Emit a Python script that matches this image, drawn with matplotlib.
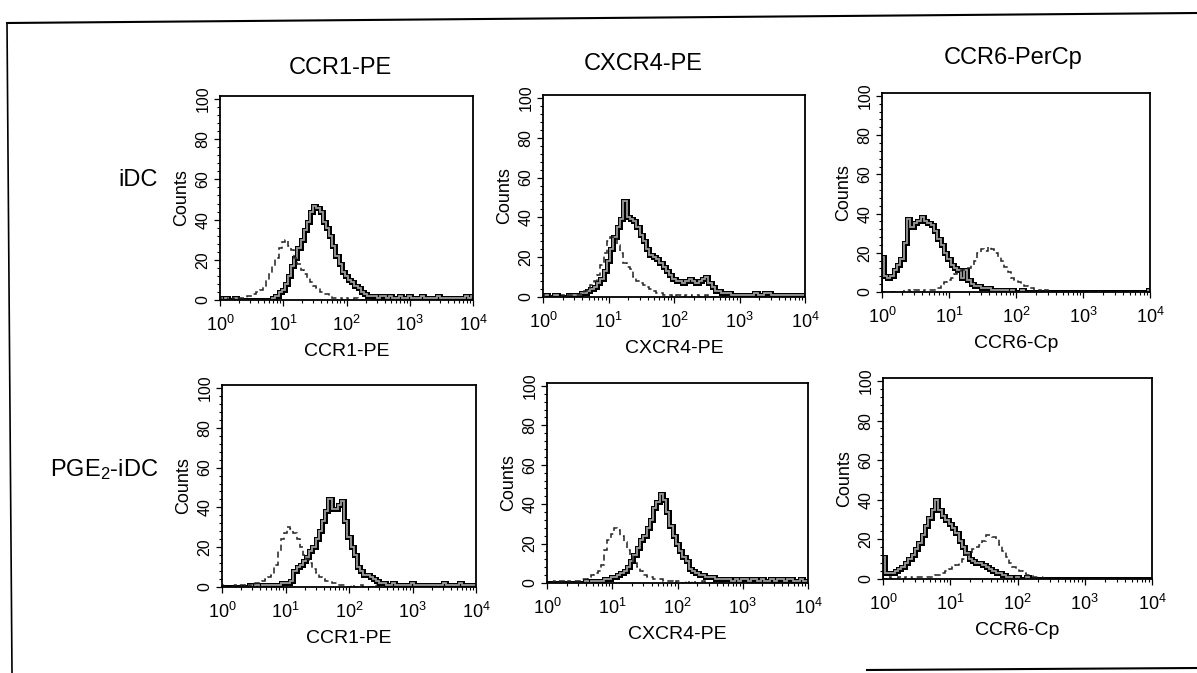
import numpy as np
import matplotlib.pyplot as plt
from matplotlib.lines import Line2D
from matplotlib.ticker import AutoMinorLocator, LogLocator, NullFormatter

plt.rcParams['font.family'] = ['Liberation Sans', 'DejaVu Sans']
plt.rcParams['mathtext.fontset'] = 'custom'
plt.rcParams['mathtext.rm'] = 'Liberation Sans'
plt.rcParams['mathtext.it'] = 'Liberation Sans:italic'
plt.rcParams['mathtext.default'] = 'regular'

# channel grid: 81 log channels, 0.05 decade wide, from 10^0 to 10^4
log_edges = np.linspace(-0.025, 4.025, 82)

markers = ['CCR1-PE', 'CXCR4-PE', 'CCR6-PerCp']
axis_labels = ['CCR1-PE', 'CXCR4-PE', 'CCR6-Cp']
row_labels = ['iDC', r'PGE$_\mathregular{2}$-iDC']
decade_ticks = [1, 10, 100, 1000, 10000]
decade_labels = ['$10^{0}$', '$10^{1}$', '$10^{2}$', '$10^{3}$', '$10^{4}$']
count_ticks = [0, 20, 40, 60, 80, 100]

# one value per channel (81 channels)
ccr1_idc_solid = [1, 0, 1, 0, 0, 1, 0, 0, 0, 0,
                  0, 0, 0, 0, 0, 0, 0, 1, 2, 4,
                  5, 8, 12, 17, 21, 26, 30, 35, 39, 44,
                  47, 46, 44, 39, 36, 32, 27, 22, 18, 14,
                  12, 10, 9, 7, 6, 4, 3, 2, 2, 2,
                  1, 2, 2, 1, 2, 1, 1, 2, 1, 1,
                  2, 1, 1, 1, 2, 1, 1, 1, 1, 2,
                  1, 1, 1, 1, 1, 1, 1, 1, 2, 1,
                  2]
ccr1_idc_dashed = [1, 1, 0, 1, 1, 0, 1, 1, 1, 2,
                   2, 3, 4, 5, 7, 10, 13, 17, 21, 26,
                   29, 30, 27, 25, 21, 18, 15, 13, 11, 9,
                   7, 6, 4, 3, 3, 2, 1, 1, 1, 0,
                   1, 0, 0, 1, 0, 0, 0, 0, 0, 0,
                   0, 0, 0, 0, 0, 0, 0, 0, 0, 0,
                   0, 0, 0, 0, 0, 0, 0, 0, 0, 0,
                   0, 0, 0, 0, 0, 0, 0, 0, 0, 0,
                   0]
cxcr4_idc_solid = [0, 1, 0, 0, 1, 0, 0, 0, 1, 1,
                   1, 1, 2, 2, 3, 4, 5, 7, 9, 13,
                   18, 24, 30, 35, 39, 48, 40, 39, 38, 35,
                   31, 28, 24, 21, 20, 19, 17, 15, 13, 11,
                   9, 8, 8, 7, 8, 9, 8, 7, 8, 9,
                   10, 7, 5, 3, 3, 2, 2, 2, 1, 1,
                   1, 1, 1, 1, 1, 2, 1, 1, 2, 2,
                   1, 1, 1, 1, 1, 1, 1, 1, 1, 1,
                   1]
cxcr4_idc_dashed = [1, 1, 0, 1, 0, 1, 1, 0, 1, 1,
                    1, 1, 2, 3, 4, 6, 8, 11, 16, 22,
                    28, 30, 29, 26, 22, 17, 15, 14, 10, 8,
                    7, 6, 5, 4, 3, 2, 2, 1, 1, 1,
                    0, 1, 1, 0, 1, 1, 0, 1, 0, 0,
                    1, 0, 0, 0, 0, 0, 0, 0, 0, 0,
                    0, 0, 0, 0, 0, 0, 0, 0, 0, 0,
                    0, 0, 0, 0, 0, 0, 0, 0, 0, 0,
                    0]
ccr6_idc_solid = [18, 8, 7, 8, 11, 14, 17, 25, 37, 33,
                  35, 36, 38, 36, 35, 34, 31, 27, 24, 20,
                  17, 14, 12, 11, 7, 11, 6, 4, 3, 3,
                  2, 2, 2, 1, 1, 1, 1, 1, 0, 1,
                  0, 0, 1, 0, 0, 0, 0, 0, 0, 0,
                  0, 0, 0, 0, 0, 0, 0, 0, 0, 0,
                  0, 0, 0, 0, 0, 0, 0, 0, 0, 0,
                  0, 0, 0, 0, 0, 0, 0, 0, 0, 0,
                  1]
ccr6_idc_dashed = [0, 0, 0, 0, 0, 0, 0, 1, 1, 0,
                   1, 1, 0, 1, 1, 1, 1, 2, 4, 5,
                   6, 7, 9, 10, 11, 12, 12, 14, 16, 20,
                   22, 21, 23, 22, 20, 18, 16, 13, 10, 7,
                   6, 5, 4, 3, 2, 2, 1, 1, 0, 1,
                   0, 0, 0, 0, 0, 0, 0, 0, 0, 0,
                   0, 0, 0, 0, 0, 0, 0, 0, 0, 0,
                   0, 0, 0, 0, 0, 0, 0, 0, 0, 0,
                   0]
ccr1_pge_solid = [0, 0, 0, 0, 0, 0, 0, 0, 0, 1,
                  0, 1, 0, 1, 1, 1, 1, 1, 1, 2,
                  2, 2, 3, 8, 10, 11, 13, 15, 18, 20,
                  24, 28, 33, 38, 44, 39, 39, 41, 43, 33,
                  25, 20, 16, 10, 8, 6, 6, 5, 4, 3,
                  2, 2, 1, 1, 2, 1, 1, 1, 1, 1,
                  2, 1, 1, 1, 1, 1, 1, 1, 1, 1,
                  2, 1, 1, 1, 1, 2, 1, 1, 1, 1,
                  1]
ccr1_pge_dashed = [0, 1, 0, 0, 1, 0, 1, 1, 0, 1,
                   1, 2, 2, 3, 4, 5, 6, 11, 18, 24,
                   27, 30, 29, 27, 24, 20, 16, 14, 12, 9,
                   7, 5, 4, 3, 3, 2, 2, 1, 1, 1,
                   0, 1, 0, 0, 1, 0, 0, 0, 1, 0,
                   0, 0, 0, 0, 0, 0, 0, 0, 0, 0,
                   0, 0, 0, 0, 0, 0, 0, 0, 0, 0,
                   0, 0, 0, 0, 0, 0, 0, 0, 0, 0,
                   0]
cxcr4_pge_solid = [0, 0, 0, 0, 0, 0, 0, 0, 0, 0,
                   0, 0, 1, 0, 1, 1, 1, 1, 2, 2,
                   3, 3, 4, 5, 6, 8, 11, 14, 18, 22,
                   24, 28, 32, 38, 41, 45, 42, 36, 29, 24,
                   20, 16, 13, 11, 7, 6, 5, 4, 4, 3,
                   3, 3, 2, 2, 2, 2, 2, 1, 2, 1,
                   2, 2, 1, 2, 2, 1, 2, 1, 1, 2,
                   1, 2, 2, 1, 2, 2, 1, 1, 2, 1,
                   1]
cxcr4_pge_dashed = [0, 0, 1, 0, 1, 1, 0, 1, 1, 1,
                    1, 2, 2, 3, 4, 5, 6, 9, 17, 22,
                    25, 28, 27, 24, 21, 17, 14, 10, 8, 6,
                    4, 3, 3, 2, 2, 2, 1, 1, 1, 0,
                    1, 1, 0, 1, 0, 1, 0, 0, 1, 0,
                    0, 0, 0, 0, 0, 0, 0, 0, 0, 0,
                    0, 0, 0, 0, 0, 0, 0, 0, 0, 0,
                    0, 0, 0, 0, 0, 0, 0, 0, 0, 0,
                    0]
ccr6_pge_solid = [11, 3, 3, 3, 4, 5, 6, 8, 10, 12,
                  15, 18, 22, 27, 31, 35, 40, 35, 32, 30,
                  28, 26, 23, 19, 16, 13, 10, 9, 8, 8,
                  7, 6, 5, 4, 3, 3, 2, 1, 1, 0,
                  1, 0, 0, 1, 0, 0, 0, 0, 0, 0,
                  0, 0, 0, 0, 0, 0, 0, 0, 0, 0,
                  0, 0, 0, 0, 0, 0, 0, 0, 0, 0,
                  0, 0, 0, 0, 0, 0, 0, 0, 0, 0,
                  0]
ccr6_pge_dashed = [0, 0, 1, 0, 0, 1, 0, 1, 1, 0,
                   1, 1, 1, 1, 1, 1, 2, 2, 3, 4,
                   5, 6, 7, 8, 10, 12, 13, 15, 16, 17,
                   19, 22, 22, 21, 20, 17, 14, 11, 8, 6,
                   5, 4, 3, 2, 2, 1, 1, 0, 1, 0,
                   0, 0, 0, 0, 0, 0, 0, 0, 0, 0,
                   0, 0, 0, 0, 0, 0, 0, 0, 0, 0,
                   0, 0, 0, 0, 0, 0, 0, 0, 0, 0,
                   0]

solid = [[ccr1_idc_solid, cxcr4_idc_solid, ccr6_idc_solid],
         [ccr1_pge_solid, cxcr4_pge_solid, ccr6_pge_solid]]
dashed = [[ccr1_idc_dashed, cxcr4_idc_dashed, ccr6_idc_dashed],
          [ccr1_pge_dashed, cxcr4_pge_dashed, ccr6_pge_dashed]]

W, H = 1197, 673
# panel boxes in pixels: left, top, right, bottom
boxes = [[(220, 96, 473, 300), (543, 95, 805, 297), (882, 93, 1150, 292)],
         [(222, 385, 476, 587), (547, 383, 808, 583), (883, 378, 1152, 579)]]

fig = plt.figure(figsize=(W / 100, H / 100), dpi=100)
edges = 10 ** log_edges

for r in range(2):
    for c in range(3):
        l, t, rt, b = boxes[r][c]
        ax = fig.add_axes([l / W, 1 - b / H, (rt - l) / W, (b - t) / H])
        ax.stairs(solid[r][c], edges, color='black', lw=3.6, joinstyle='miter')
        ax.stairs(solid[r][c], edges, color='#9a9a9a', lw=1.3)
        ax.stairs(dashed[r][c], edges, color='#222222', lw=1.1, linestyle=(0, (4, 2.5)))
        ax.set_xscale('log')
        ax.set_xlim(1, 1e4)
        ax.set_ylim(0, 101.5)
        ax.set_xticks(decade_ticks, decade_labels, fontsize=13)
        ax.xaxis.set_minor_locator(LogLocator(base=10, subs=np.arange(2, 10)))
        ax.xaxis.set_minor_formatter(NullFormatter())
        ax.set_yticks(count_ticks, [str(v) for v in count_ticks], fontsize=11.5)
        ax.yaxis.set_minor_locator(AutoMinorLocator(5))
        for lab in ax.get_yticklabels():
            lab.set_rotation(90)
            lab.set_va('center')
        ax.tick_params(which='major', direction='out', length=4.5, width=0.9, pad=2.5)
        ax.tick_params(axis='x', which='major', pad=6)
        ax.tick_params(which='minor', direction='out', length=2.2, width=0.8)
        ax.tick_params(top=False, right=False, which='both')
        for sp in ax.spines.values():
            sp.set_linewidth(1.3)
        ax.set_xlabel(axis_labels[c], fontsize=14, labelpad=6)
        ax.set_ylabel('Counts', fontsize=13, labelpad=4)

title_pos = [(340, 68), (643, 64), (1013, 58)]
for name, (x, y) in zip(markers, title_pos):
    fig.text(x / W, 1 - y / H, name, ha='center', va='center', fontsize=17)

fig.text(158 / W, 1 - 180 / H, row_labels[0], ha='right', va='center', fontsize=17)
fig.text(158 / W, 1 - 470 / H, row_labels[1], ha='right', va='center', fontsize=17)

# scanned page border
fig.add_artist(Line2D([7 / W, 1], [1 - 23 / H, 1 - 13 / H], color='black', lw=1.5))
fig.add_artist(Line2D([7 / W, 12 / W], [1 - 23 / H, 0], color='black', lw=1.2))
fig.add_artist(Line2D([867 / W, 1], [1 - 670 / H, 1 - 668 / H], color='black', lw=1.5))

fig.savefig('out.png', dpi=100)
